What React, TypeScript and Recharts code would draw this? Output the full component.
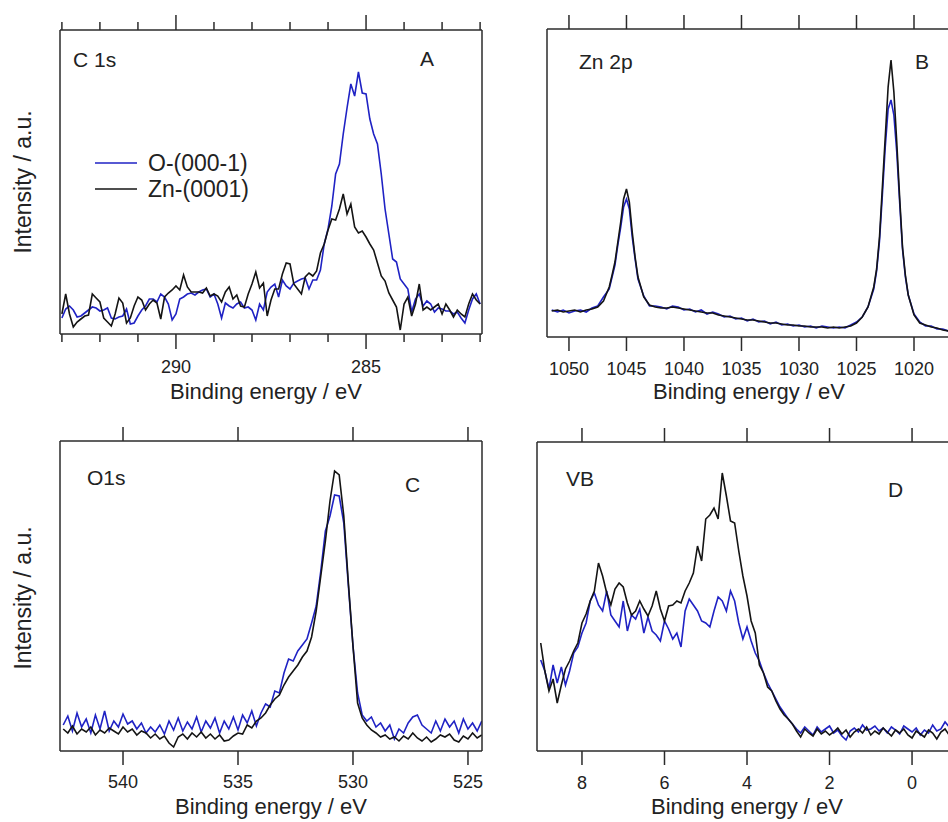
import React from 'react';
import { LineChart, Line, XAxis, YAxis, Legend } from 'recharts';

const BLUE = '#1f22c4';
const BLACK = '#141414';
const FRAME = '#2b2b2b';
const FONT = '"Liberation Sans", Arial, Helvetica, sans-serif';

const SERIES_O = 'O-(000-1)';
const SERIES_ZN = 'Zn-(0001)';

// ---- C 1s: 293.0 -> 282.0 eV, every 0.1 eV
const c1sStart = 293.0;
const c1sStep = -0.1;
const c1sO = [
  16, 25, 28, 24, 17, 18, 21, 24, 27, 26,
  23, 24, 26, 16, 15, 17, 18, 25, 10, 11,
  18, 24, 28, 35, 35, 32, 40, 37, 30, 14,
  20, 35, 37, 40, 41, 39, 42, 44, 45, 37,
  40, 30, 16, 31, 28, 26, 30, 32, 26, 27,
  24, 14, 30, 24, 42,
  47, 50, 37, 54, 48, 45, 51, 53, 55, 56,
  45, 54, 54, 64, 90, 105, 128, 160, 170, 200,
  226, 250, 238, 262, 241, 240, 215, 200, 190, 160,
  125, 100, 75, 72, 55, 50, 45, 22, 35, 40,
  28, 33, 30, 22, 26, 25, 23, 23, 20, 22,
  16, 11, 24, 35, 40, 30,
];
const c1sZn = [
  20, 40, 20, 7, 12, 15, 18, 19, 40, 36,
  32, 16, 12, 8, 20, 36, 31, 11, 16, 28,
  37, 34, 24, 30, 34, 31, 15, 37, 41, 44,
  48, 44, 59, 47, 42, 42, 42, 41, 46, 38,
  40, 38, 32, 42, 47, 35, 39, 28, 27, 40,
  50, 62, 46, 51, 18,
  34, 45, 45, 60, 71, 70, 50, 45, 40, 57,
  61, 58, 63, 81, 90, 104, 115, 114, 125, 140,
  120, 130, 107, 101, 103, 97, 90, 84, 71, 58,
  53, 41, 34, 27, 4, 30, 37, 18, 30, 50,
  24, 27, 24, 27, 30, 20, 30, 24, 17, 24,
  20, 17, 30, 40, 34, 30,
];
const c1sTicks = [293, 292, 291, 290, 289, 288, 287, 286, 285, 284, 283, 282];

// ---- Zn 2p
const zn2pEnergy = [
  1051.5, 1051, 1050.5, 1050, 1049.5, 1049, 1048.5, 1048, 1047.5, 1047,
  1046.5, 1046.25, 1046, 1045.75, 1045.5, 1045.25, 1045, 1044.75, 1044.5, 1044.25,
  1044, 1043.5, 1043, 1042.5, 1042, 1041.5, 1041, 1040.5, 1040, 1039.5,
  1039, 1038.5, 1038, 1037.5, 1037, 1036.5, 1036, 1035.5, 1035, 1034.5,
  1034, 1033.5, 1033, 1032.5, 1032, 1031.5, 1031, 1030.5, 1030, 1029.5,
  1029, 1028.5, 1028, 1027.5, 1027, 1026.5, 1026, 1025.5, 1025, 1024.5,
  1024, 1023.5, 1023.25, 1023, 1022.75, 1022.5, 1022.25, 1022, 1021.75, 1021.5,
  1021.25, 1021, 1020.75, 1020.5, 1020, 1019.5, 1019, 1018.5, 1018, 1017.5,
  1017,
];
const zn2pO = [
  27, 25, 27, 24, 26, 27, 25, 29, 31, 40,
  48, 60, 72, 92, 110, 130, 138, 128, 100, 78,
  58, 41, 31, 31, 30, 28, 31, 30, 27, 28,
  25, 27, 23, 25, 23, 20, 21, 18, 19, 16,
  18, 15, 16, 13, 15, 12, 13, 11, 12, 10,
  11, 9, 11, 10, 9, 10, 9, 12, 15, 20,
  30, 48, 66, 96, 142, 190, 228, 237, 222, 185,
  135, 88, 60, 42, 23, 15, 11, 11, 8, 8,
  6,
];
const zn2pZn = [
  26, 27, 25, 26, 27, 25, 27, 28, 30, 36,
  50, 62, 75, 95, 115, 138, 148, 135, 105, 80,
  60, 40, 32, 30, 29, 29, 30, 29, 28, 27,
  26, 25, 24, 24, 22, 21, 20, 19, 18, 17,
  17, 16, 15, 14, 14, 13, 12, 12, 11, 11,
  10, 10, 10, 9, 10, 9, 10, 11, 14, 20,
  30, 50, 68, 100, 150, 200, 250, 277, 245, 195,
  140, 90, 62, 42, 22, 14, 12, 10, 9, 7,
  6,
];
const zn2pTicks = [1050, 1045, 1040, 1035, 1030, 1025, 1020];

// ---- O 1s: 542.6 -> 524.4 eV, every 0.2 eV
const o1sStart = 542.6;
const o1sStep = -0.2;
const o1sO = [
  26, 35, 20, 38, 24, 32, 18, 36, 22, 40,
  20, 30, 24, 37, 27, 30, 22, 28, 18, 24,
  19, 26, 17, 30, 21, 33, 20, 29, 22, 34,
  19, 30, 23, 33, 18, 30, 22, 34, 21, 36,
  28, 40, 25, 38, 47, 44, 60, 58, 78, 92,
  90, 100, 106, 112, 128, 145, 180, 220, 235, 256,
  255, 228, 165, 105, 58, 36, 30, 34, 24, 28,
  20, 26, 12, 22, 18, 28, 34, 36, 26, 22,
  18, 30, 20, 32, 24, 30, 18, 32, 22, 28,
  20, 30,
];
const o1sZn = [
  22, 18, 25, 17, 22, 19, 24, 16, 21, 18,
  23, 20, 17, 24, 19, 22, 16, 20, 18, 13,
  17, 12, 15, 8, 4, 14, 17, 12, 18, 14,
  19, 13, 17, 12, 16, 10, 11, 15, 18, 17,
  26, 23, 30, 33, 38, 46, 52, 56, 66, 74,
  80, 86, 94, 100, 114, 140, 175, 210, 250, 280,
  276, 235, 168, 105, 48, 33, 26, 21, 18, 14,
  16, 12, 14, 10, 15, 12, 18, 13, 10, 14,
  9, 12, 16, 14, 17, 11, 9, 15, 12, 18,
  13, 16,
];
const o1sTicks = [540, 535, 530, 525];

// ---- Valence band: 9.0 -> -0.9 eV, every 0.1 eV
const vbStart = 9.0;
const vbStep = -0.1;
const vbO = [
  91, 80, 62, 86, 68, 84, 66, 80, 98, 104,
  118, 128, 150, 158, 146, 140, 160, 136, 130, 124,
  150, 120, 136, 132, 142, 118, 134, 120, 116, 110,
  130, 122, 112, 118, 104, 140, 152, 146, 140, 130,
  128, 124, 140, 154, 150, 140, 160, 150, 128, 112,
  124, 110, 98, 90, 78, 68, 60, 52, 44, 38,
  32, 27, 22, 18, 24, 20, 16, 24, 19, 22,
  25, 18, 21, 15, 11, 20, 23, 19, 26, 21,
  22, 25, 20, 23, 18, 24, 21, 17, 25, 22,
  19, 23, 16, 21, 18, 26, 20, 22, 29, 24,
];
const vbZn = [
  108, 80, 60, 72, 48, 66, 82, 90, 100, 108,
  128, 137, 150, 160, 188, 175, 158, 146, 162, 168,
  164, 148, 136, 140, 150, 142, 135, 145, 160, 142,
  130, 145, 146, 150, 148, 160, 168, 178, 205, 190,
  232, 236, 243, 232, 278, 255, 230, 228, 200, 175,
  155, 130, 118, 86, 78, 64, 60, 50, 42, 36,
  32, 27, 20, 14, 22, 18, 15, 22, 17, 20,
  16, 19, 23, 17, 21, 14, 19, 22, 18, 24,
  16, 20, 17, 23, 19, 15, 21, 18, 22, 16,
  13, 20, 17, 14, 21, 18, 12, 19, 22, 16,
];
const vbTicks = [8, 6, 4, 2, 0];

const gridRows = (start: number, step: number, o: number[], zn: number[]) =>
  o.map((v, i) => ({ e: +(start + step * i).toFixed(2), o: v, zn: zn[i] }));
const listRows = (es: number[], o: number[], zn: number[]) =>
  es.map((e, i) => ({ e, o: o[i], zn: zn[i] }));

// axes are 1px thick boxes (recharts skips zero-sized axes), so margins are 1px smaller
const AX = 1;

const makeTick =
  (side: 'top' | 'bottom', isMajor: (v: number) => boolean, majorLen: number, minorLen: number, labelDy: number) =>
  (props: any) => {
    const { x, y, payload } = props;
    const major = isMajor(payload.value);
    const len = major ? majorLen : minorLen;
    const dir = side === 'top' ? -1 : 1;
    return (
      <g>
        <line x1={x} x2={x} y1={y} y2={y + dir * len} stroke={FRAME} strokeWidth={1.5} />
        {side === 'bottom' && major && (
          <text x={x} y={y + labelDy} textAnchor='middle' fontSize={18} fill='#222' fontFamily={FONT}>
            {payload.value}
          </text>
        )}
      </g>
    );
  };

const renderLegend = (props: any) => (
  <svg width={230} height={60} style={{ display: 'block', overflow: 'visible' }}>
    {(props.payload || []).map((p: any, i: number) => (
      <g key={p.value}>
        <line x1={5} x2={47} y1={18 + i * 26} y2={18 + i * 26} stroke={p.color} strokeWidth={1.6} />
        <text x={58} y={26 + i * 26} fontSize={23} fontFamily={FONT} fill='#222'>
          {p.value}
        </text>
      </g>
    ))}
  </svg>
);

type PanelProps = {
  left: number;
  top: number;
  width: number;
  height: number;
  plot: { top: number; right: number; bottom: number; left: number };
  domain: [number, number];
  yMax: number;
  ticks: number[];
  isMajor: (v: number) => boolean;
  majorLen: number;
  minorLen: number;
  labelDy: number;
  rows: { e: number; o: number; zn: number }[];
  legend?: boolean;
};

function Panel(p: PanelProps) {
  const margin = {
    top: p.plot.top - AX,
    right: p.plot.right - AX,
    bottom: p.plot.bottom - AX,
    left: p.plot.left - AX,
  };
  return (
    <div style={{ position: 'absolute', left: p.left, top: p.top }}>
      <LineChart width={p.width} height={p.height} data={p.rows} margin={margin}>
        <XAxis
          dataKey='e'
          type='number'
          domain={p.domain}
          allowDataOverflow
          reversed
          ticks={p.ticks}
          interval={0}
          height={AX}
          tickSize={0}
          tickMargin={0}
          tickLine={false}
          axisLine={{ stroke: FRAME, strokeWidth: 1.5 }}
          tick={makeTick('bottom', p.isMajor, p.majorLen, p.minorLen, p.labelDy)}
        />
        <XAxis
          xAxisId='top'
          orientation='top'
          dataKey='e'
          type='number'
          domain={p.domain}
          allowDataOverflow
          reversed
          ticks={p.ticks}
          interval={0}
          height={AX}
          tickSize={0}
          tickMargin={0}
          tickLine={false}
          axisLine={{ stroke: FRAME, strokeWidth: 1.5 }}
          tick={makeTick('top', p.isMajor, p.majorLen, p.minorLen, 0)}
        />
        <YAxis
          type='number'
          domain={[0, p.yMax]}
          allowDataOverflow
          width={AX}
          tick={false}
          tickLine={false}
          axisLine={{ stroke: FRAME, strokeWidth: 1.5 }}
        />
        <YAxis
          yAxisId='r'
          orientation='right'
          type='number'
          domain={[0, p.yMax]}
          width={AX}
          tick={false}
          tickLine={false}
          axisLine={{ stroke: FRAME, strokeWidth: 1.5 }}
        />
        {p.legend && (
          <Legend
            layout='horizontal'
            verticalAlign='middle'
            align='center'
            wrapperStyle={{ left: 90, top: 145, width: 230, height: 60 }}
            content={renderLegend}
          />
        )}
        <Line
          type='linear'
          dataKey='o'
          name={SERIES_O}
          stroke={BLUE}
          strokeWidth={1.6}
          dot={false}
          isAnimationActive={false}
        />
        <Line
          type='linear'
          dataKey='zn'
          name={SERIES_ZN}
          stroke={BLACK}
          strokeWidth={1.6}
          dot={false}
          isAnimationActive={false}
        />
      </LineChart>
    </div>
  );
}

const allMajor = () => true;

export default function App() {
  const textStyle = { fontFamily: FONT, fill: '#222' };
  return (
    <div
      style={{
        position: 'absolute',
        left: 0,
        top: 0,
        width: 948,
        height: 822,
        overflow: 'hidden',
        background: '#fff',
        fontFamily: FONT,
      }}
    >
      <Panel
        left={0}
        top={0}
        width={490}
        height={410}
        plot={{ top: 30, right: 8, bottom: 76, left: 60 }}
        domain={[281.95, 293.05]}
        yMax={304}
        ticks={c1sTicks}
        isMajor={(v) => v === 290 || v === 285}
        majorLen={15}
        minorLen={8}
        labelDy={39}
        rows={gridRows(c1sStart, c1sStep, c1sO, c1sZn)}
        legend
      />
      <Panel
        left={490}
        top={0}
        width={470}
        height={410}
        plot={{ top: 29, right: 10, bottom: 73, left: 57 }}
        domain={[1016.87, 1051.91]}
        yMax={308}
        ticks={zn2pTicks}
        isMajor={allMajor}
        majorLen={14}
        minorLen={14}
        labelDy={38}
        rows={listRows(zn2pEnergy, zn2pO, zn2pZn)}
      />
      <Panel
        left={0}
        top={410}
        width={490}
        height={412}
        plot={{ top: 31, right: 8, bottom: 71, left: 60 }}
        domain={[524.39, 542.74]}
        yMax={310}
        ticks={o1sTicks}
        isMajor={allMajor}
        majorLen={14}
        minorLen={14}
        labelDy={37}
        rows={gridRows(o1sStart, o1sStep, o1sO, o1sZn)}
      />
      <Panel
        left={490}
        top={410}
        width={470}
        height={412}
        plot={{ top: 32, right: 10, bottom: 71, left: 47 }}
        domain={[-0.92, 9.09]}
        yMax={309}
        ticks={vbTicks}
        isMajor={allMajor}
        majorLen={14}
        minorLen={14}
        labelDy={38}
        rows={gridRows(vbStart, vbStep, vbO, vbZn)}
      />

      <svg
        width={948}
        height={822}
        style={{ position: 'absolute', left: 0, top: 0, pointerEvents: 'none' }}
      >
        <g fontSize={21} style={textStyle}>
          <text x={73} y={67}>C 1s</text>
          <text x={420} y={66}>A</text>
          <text x={579} y={69}>Zn 2p</text>
          <text x={915} y={69}>B</text>
          <text x={87} y={485}>O1s</text>
          <text x={405} y={492}>C</text>
          <text x={566} y={486}>VB</text>
          <text x={888} y={497}>D</text>
        </g>
        <g fontSize={22} textAnchor='middle' style={textStyle}>
          <text x={266} y={399}>Binding energy / eV</text>
          <text x={749} y={399}>Binding energy / eV</text>
          <text x={271} y={814}>Binding energy / eV</text>
          <text x={747} y={814}>Binding energy / eV</text>
        </g>
        <g fontSize={23} textAnchor='middle' style={textStyle}>
          <text x={23} y={182} transform='rotate(-90 23 182)' dominantBaseline='central'>
            Intensity / a.u.
          </text>
          <text x={23} y={598} transform='rotate(-90 23 598)' dominantBaseline='central'>
            Intensity / a.u.
          </text>
        </g>
      </svg>
    </div>
  );
}
